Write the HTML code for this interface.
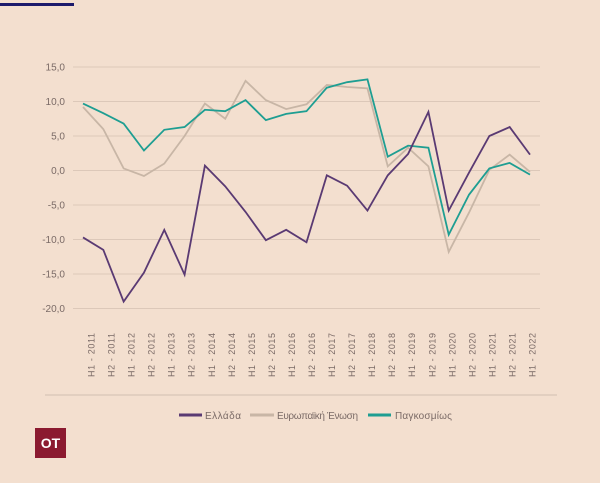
<!DOCTYPE html>
<html><head><meta charset="utf-8"><style>
body{margin:0;background:#f3dfcf;width:600px;height:478px;overflow:hidden;font-family:"Liberation Sans",sans-serif}
</style></head><body>
<svg id="c" width="600" height="478" xmlns="http://www.w3.org/2000/svg">
<rect width="600" height="478" fill="#f3dfcf"/>
<rect x="0" y="3" width="74" height="3" fill="#1c1a6b"/>
<g id="grid"></g><g id="ylab"></g><g id="xlab"></g><g id="lines"></g>
<line x1="45" x2="557" y1="395" y2="395" stroke="#d2bfb0" stroke-width="1"/>
<g font-size="10" fill="#7a6a66">
<g><line x1="179" x2="202" y1="415" y2="415" stroke="#5a3a73" stroke-width="3"/><text x="205" y="419" fill="#7a6a66" textLength="36">Ελλάδα</text></g>
<g><line x1="250" x2="274" y1="415" y2="415" stroke="#c8b6a6" stroke-width="3"/><text x="277" y="419" fill="#7a6a66" textLength="81">Ευρωπαϊκή Ένωση</text></g>
<g><line x1="368" x2="391" y1="415" y2="415" stroke="#1e9e92" stroke-width="3"/><text x="395" y="419" fill="#7a6a66" textLength="57">Παγκοσμίως</text></g>
</g>
<g><rect x="35" y="428" width="31" height="30" fill="#8b1a30"/><text x="50.5" y="448" text-anchor="middle" font-size="14" font-weight="bold" fill="#fff">OT</text></g>
</svg>
<script>
const categories=["H1 - 2011","H2 - 2011","H1 - 2012","H2 - 2012","H1 - 2013","H2 - 2013","H1 - 2014","H2 - 2014","H1 - 2015","H2 - 2015","H1 - 2016","H2 - 2016","H1 - 2017","H2 - 2017","H1 - 2018","H2 - 2018","H1 - 2019","H2 - 2019","H1 - 2020","H2 - 2020","H1 - 2021","H2 - 2021","H1 - 2022"];
const greece=[-9.7,-11.5,-19,-14.8,-8.6,-15.1,0.7,-2.3,-6,-10.1,-8.6,-10.4,-0.7,-2.2,-5.8,-0.7,2.4,8.5,-5.8,-0.3,5.0,6.3,2.3];
const eu=[9.2,6.0,0.3,-0.8,1.0,5.0,9.7,7.5,13.0,10.2,8.9,9.6,12.4,12.1,11.9,0.6,3.3,0.6,-11.8,-6.1,0.1,2.3,-0.2];
const world=[9.7,8.3,6.8,2.9,5.9,6.3,8.8,8.6,10.2,7.3,8.2,8.6,12.0,12.8,13.2,2.0,3.6,3.3,-9.3,-3.5,0.3,1.1,-0.6];
const yTicks=[15,10,5,0,-5,-10,-15,-20];
const yTickLabels=["15,0","10,0","5,0","0,0","-5,0","-10,0","-15,0","-20,0"];
const NS="http://www.w3.org/2000/svg";
const x=i=>83+i*(530-83)/(categories.length-1);
const xl=i=>91+i*(532-91)/(categories.length-1);
const y=v=>170.5-v*6.9;
function mk(t,a,p){const e=document.createElementNS(NS,t);for(const k in a)e.setAttribute(k,a[k]);p.appendChild(e);return e;}
const G=document.getElementById('grid'),YL=document.getElementById('ylab'),XL=document.getElementById('xlab'),L=document.getElementById('lines');
yTicks.forEach((t,i)=>{
 const g=mk('line',{x1:73,x2:540,y1:y(t),y2:y(t),stroke:'#dcc8b9','stroke-width':1},G);
 
 
 const tx=mk('text',{x:65,y:y(t)+3.5,'text-anchor':'end','font-size':10,fill:'#7a6a66'},YL);
 tx.textContent=yTickLabels[i];
 
 
});
categories.forEach((c,i)=>{
 const tx=mk('text',{transform:`translate(${xl(i)+3.5},377) rotate(-90)`,'font-size':9,fill:'#7a6a66',textLength:44},XL);
 tx.textContent=c;
 
 
});
[[eu,'#c8b6a6','eu-line'],[world,'#1e9e92','world-line'],[greece,'#5a3a73','greece-line']].forEach(([d,col,n])=>{
 const p=mk('polyline',{points:d.map((v,i)=>x(i)+','+y(v)).join(' '),fill:'none',stroke:col,'stroke-width':1.8,'stroke-linejoin':'miter'},L);
 
 
});
</script>
</body></html>
